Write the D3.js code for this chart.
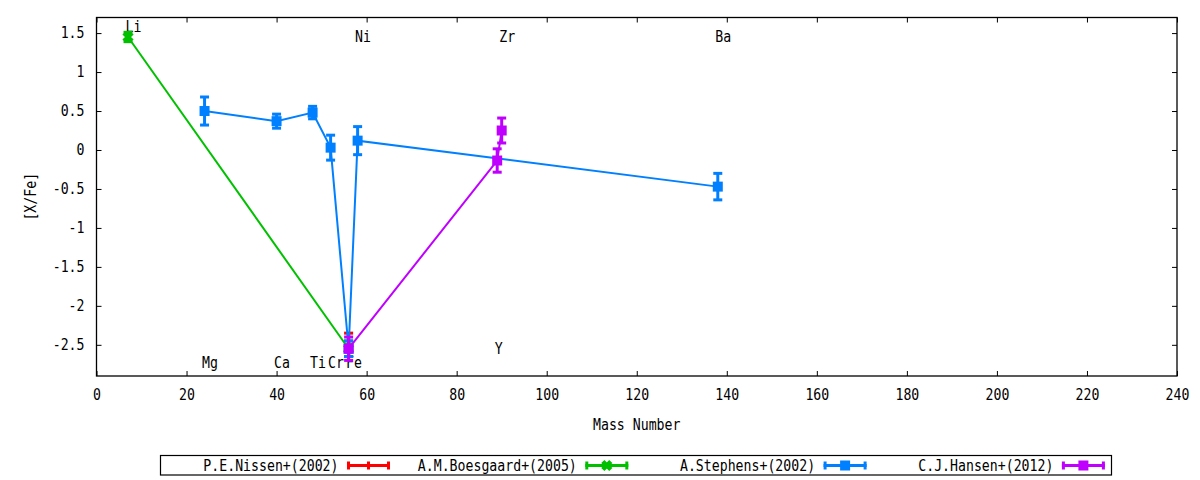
<!DOCTYPE html>
<html>
<head>
<meta charset="utf-8">
<script src="https://cdn.jsdelivr.net/npm/d3@7"></script>
<style>
  body { margin: 0; background: #fff; }
  text { font-family: "DejaVu Sans Mono", monospace; font-size: 15px; fill: #000; }
</style>
</head>
<body>
<div id="chart"></div>
<script>
// element labels drawn inside the plot (x = mass number, y = [X/Fe] position of the label)
const elemNames = ["Li", "Mg", "Ca", "Ti", "Cr", "Fe", "Ni", "Y", "Zr", "Ba"];
const elemMass = [7, 24, 40, 48, 52, 56, 58, 89, 90, 138];
const elemLabelY = [1.58, -2.73, -2.73, -2.73, -2.73, -2.73, 1.45, -2.55, 1.45, 1.45];

// series values
const nissenMass = [56];
const nissenVal = [-2.5];
const nissenErr = [0.15];

const boesgaardMass = [7, 56];
const boesgaardVal = [1.45, -2.55];
const boesgaardErr = [0.06, 0.1];

const stephensMass = [24, 40, 48, 52, 56, 58, 138];
const stephensVal = [0.50, 0.37, 0.48, 0.03, -2.55, 0.12, -0.47];
const stephensErr = [0.18, 0.09, 0.08, 0.16, 0.1, 0.18, 0.17];

const hansenMass = [56, 89, 90];
const hansenVal = [-2.55, -0.135, 0.25];
const hansenErr = [0.15, 0.15, 0.16];

const seriesNames = ["P.E.Nissen+(2002)", "A.M.Boesgaard+(2005)", "A.Stephens+(2002)", "C.J.Hansen+(2012)"];
const seriesColors = ["#ff0000", "#00c000", "#0080ff", "#c000ff"];
const seriesMarkers = ["plus", "cross", "square", "square"];

const xTicks = d3.range(0, 241, 20);
const yTicks = [-2.5, -2, -1.5, -1, -0.5, 0, 0.5, 1, 1.5];

const W = 1200, H = 480;
const plot = { left: 96.5, right: 1177, top: 17.5, bottom: 376 };
const charW = 7.95;

const series = [
    { m: nissenMass, v: nissenVal, e: nissenErr },
    { m: boesgaardMass, v: boesgaardVal, e: boesgaardErr },
    { m: stephensMass, v: stephensVal, e: stephensErr },
    { m: hansenMass, v: hansenVal, e: hansenErr }
].map((s, i) => ({
    name: seriesNames[i], color: seriesColors[i], marker: seriesMarkers[i],
    pts: s.m.map((m, j) => ({ m: m, v: s.v[j], e: s.e[j] }))
}));

const svg = d3.select("#chart").append("svg")
    .attr("width", W)
    .attr("height", H);

const x = d3.scaleLinear().domain([0, 240]).range([plot.left, plot.right]);
const y = d3.scaleLinear().domain([-2.9, 1.7]).range([plot.bottom, plot.top]);

// axes with inward ticks, mirrored on top and right
svg.append("g")
    .attr("transform", "translate(0," + plot.bottom + ")")
    .call(d3.axisBottom(x).tickValues(xTicks).tickFormat(d => d).tickSizeInner(-5).tickSizeOuter(0).tickPadding(13));
svg.append("g")
    .attr("transform", "translate(0," + plot.top + ")")
    .call(d3.axisTop(x).tickValues(xTicks).tickFormat("").tickSizeInner(-5).tickSizeOuter(0));
svg.append("g")
    .attr("transform", "translate(" + plot.left + ",0)")
    .call(d3.axisLeft(y).tickValues(yTicks).tickFormat(d => String(d)).tickSizeInner(-5).tickSizeOuter(0).tickPadding(12));
svg.append("g")
    .attr("transform", "translate(" + plot.right + ",0)")
    .call(d3.axisRight(y).tickValues(yTicks).tickFormat("").tickSizeInner(-5).tickSizeOuter(0));

svg.selectAll(".domain").remove();
svg.selectAll(".tick line").attr("stroke", "#000").attr("stroke-width", 1);
svg.selectAll(".tick text").attr("font-size", null).attr("font-family", null);

svg.append("rect")
    .attr("x", plot.left).attr("y", plot.top)
    .attr("width", plot.right - plot.left).attr("height", plot.bottom - plot.top)
    .attr("fill", "none").attr("stroke", "#000").attr("stroke-width", 1.3);

// axis titles
svg.append("text")
    .attr("x", (plot.left + plot.right) / 2)
    .attr("y", 425)
    .attr("dy", "0.35em")
    .attr("text-anchor", "middle")
    .text("Mass Number");

svg.append("text")
    .attr("transform", "translate(31," + (plot.top + plot.bottom) / 2 + ") rotate(-90)")
    .attr("dy", "0.35em")
    .attr("text-anchor", "middle")
    .text("[X/Fe]");

// element labels
svg.selectAll(".elem")
    .data(elemNames)
    .enter().append("text")
    .attr("class", "elem")
    .attr("x", (d, i) => x(elemMass[i]) - 2.5)
    .attr("y", (d, i) => y(elemLabelY[i]))
    .attr("dy", "0.36em")
    .text(d => d);

function drawMarker(g, type, cx, cy, color) {
    if (type === "square") {
        g.append("rect")
            .attr("x", cx - 5).attr("y", cy - 5)
            .attr("width", 10).attr("height", 10)
            .attr("fill", color);
    } else if (type === "cross") {
        g.append("path")
            .attr("d", `M${cx - 4},${cy - 4}L${cx + 4},${cy + 4}M${cx - 4},${cy + 4}L${cx + 4},${cy - 4}`)
            .attr("stroke", color).attr("stroke-width", 4.5).attr("fill", "none");
    } else {
        g.append("path")
            .attr("d", `M${cx},${cy - 4}L${cx},${cy + 4}M${cx - 4},${cy}L${cx + 4},${cy}`)
            .attr("stroke", color).attr("stroke-width", 3).attr("fill", "none");
    }
}

// data: line, error bars, points (drawn series by series, like gnuplot)
const line = d3.line().x(d => x(d.m)).y(d => y(d.v));

series.forEach(s => {
    const g = svg.append("g");
    g.append("path")
        .datum(s.pts)
        .attr("d", line)
        .attr("fill", "none")
        .attr("stroke", s.color)
        .attr("stroke-width", 2);

    s.pts.forEach(p => {
        const cx = x(p.m), y0 = y(p.v - p.e), y1 = y(p.v + p.e);
        g.append("line")
            .attr("x1", cx).attr("x2", cx).attr("y1", y0).attr("y2", y1)
            .attr("stroke", s.color).attr("stroke-width", 3);
        [y0, y1].forEach(yy => {
            g.append("line")
                .attr("x1", cx - 4.5).attr("x2", cx + 4.5).attr("y1", yy).attr("y2", yy)
                .attr("stroke", s.color).attr("stroke-width", 3);
        });
        drawMarker(g, s.marker, cx, y(p.v), s.color);
    });
});

// legend
const legend = svg.append("g");
legend.append("rect")
    .attr("x", 160.5).attr("y", 455.5)
    .attr("width", 951).attr("height", 19.5)
    .attr("fill", "none").attr("stroke", "#000").attr("stroke-width", 1.2);

series.forEach((s, i) => {
    const x0 = 347 + i * 238.3, ly = 465.5, len = 43;
    legend.append("text")
        .attr("x", x0 - 8.5)
        .attr("y", ly)
        .attr("dy", "0.35em")
        .attr("text-anchor", "end")
        .text(s.name);
    legend.append("line")
        .attr("x1", x0).attr("x2", x0 + len).attr("y1", ly).attr("y2", ly)
        .attr("stroke", s.color).attr("stroke-width", 3);
    [x0 + 1.5, x0 + len - 1.5].forEach(xx => {
        legend.append("line")
            .attr("x1", xx).attr("x2", xx).attr("y1", ly - 4).attr("y2", ly + 4)
            .attr("stroke", s.color).attr("stroke-width", 3);
    });
    drawMarker(legend, s.marker, x0 + len / 2, ly, s.color);
});

// squeeze the mono glyphs to the narrow advance seen in the picture
svg.selectAll("text").each(function() {
    const n = this.textContent.length;
    if (n > 0) {
        this.setAttribute("textLength", n * charW);
        this.setAttribute("lengthAdjust", "spacingAndGlyphs");
    }
});
</script>
</body>
</html>
